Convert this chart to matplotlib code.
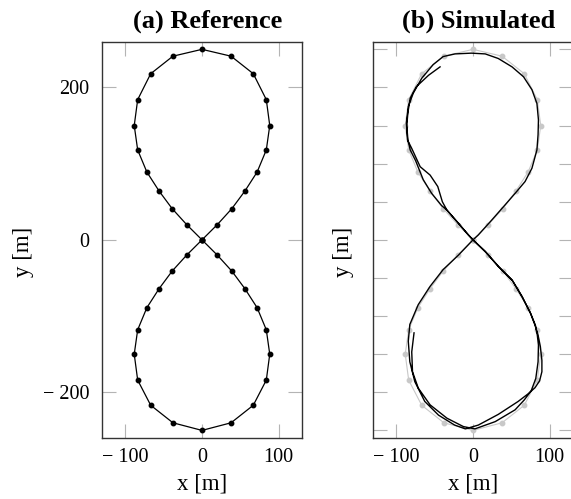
import matplotlib
matplotlib.use("Agg")
import matplotlib.pyplot as plt

plt.rcParams['font.family'] = ['Liberation Serif', 'DejaVu Serif']

# reference figure-eight waypoints [m]
ref_x = [0, 20, 39, 56, 72, 84, 88.5, 84, 67, 38, 0, -38, -67, -84, -88.5, -84, -72, -56, -39, -20,
         0, 20, 39, 56, 72, 84, 88.5, 84, 67, 38, 0, -38, -67, -84, -88.5, -84, -72, -56, -39, -20, 0]
ref_y = [0, 20, 41, 64, 89, 118, 150, 184, 218, 241, 250, 241, 218, 184, 150, 118, 89, 64, 41, 20,
         0, -20, -41, -64, -89, -118, -150, -184, -217, -240, -250, -240, -217, -184, -150, -118, -89, -64, -41, -20, 0]

# simulated trajectory (two laps) [m]
sim_x = [-43, -58, -74, -82, -85, -86.5, -85, -82, -75, -65, -54, -41, -34, -21, -6, 0,
         16, 33, 51, 64, 75, 81, 85, 88, 90, 90, 87, 81, 72, 59, 33, 7, -10, -24, -45, -63, -76, -82.5, -84.5, -82.5,
         -71.5, -56, -39, -19, 0,
         7, 24.5, 42, 55, 68, 77, 83.5, 85, 85.5, 83.5, 77, 66, 51, 33, 16, -2, -23.5, -39, -52, -67, -78, -84.5, -87, -85.5,
         -80, -69, -56, -46, -40, -34, -21, -6, 0,
         16.5, 34, 51.5, 64.5, 75.5, 81.5, 84, 85.5, 85, 82, 76, 67, 55, 29, 2.5, -12.5, -34, -56, -71.5, -79, -80, -77]
sim_y = [227, 216, 201, 186, 167, 150, 131, 118, 104, 79, 61, 45, 39, 24, 6.5, 0,
         -15, -35, -52.5, -74, -96, -112, -125, -140, -158, -173, -185, -194, -202, -212, -229, -243, -248, -243, -230, -212, -186, -160, -133, -111,
         -85, -61, -39, -20, 0,
         6.5, 26, 46, 61, 76.5, 94, 118, 138, 157.5, 179, 197, 214, 227, 238, 244, 245, 244, 240.5, 230, 212, 192.5, 175, 153, 131,
         120, 96, 85, 70, 50, 39, 24, 6.5, 0,
         -16, -35.5, -53.5, -75.5, -97, -112, -125, -138, -160, -182, -198, -210, -223, -238.5, -248, -245, -234, -216.5, -194.5, -173, -147, -122]

x_ticks = [-100, 0, 100]
x_ticklabels = ["\u2212 100", "0", "100"]
y_ticks_a = [-200, 0, 200]
y_ticklabels_a = ["\u2212 200", "0", "200"]
y_ticks_b = [-250, -200, -150, -100, -50, 0, 50, 100, 150, 200, 250]

fig = plt.figure(figsize=(5.71, 4.99), dpi=100)
ax1 = fig.add_axes([0.1781, 0.1222, 0.3513, 0.7942])
ax2 = fig.add_axes([0.6527, 0.1222, 0.3513, 0.7942])

ax1.plot(ref_x, ref_y, color='black', lw=0.9, marker='o', ms=3.2)
ax2.plot(ref_x, ref_y, color='#c8c8c8', lw=0.8, marker='o', ms=3.2)
ax2.plot(sim_x, sim_y, color='black', lw=1.0)

for ax in (ax1, ax2):
    ax.set_xlim(-131, 131)
    ax.set_ylim(-260, 260)
    ax.set_xticks(x_ticks)
    ax.set_xticklabels(x_ticklabels)
    ax.tick_params(direction='in', length=10.4, width=0.8, color='#b4b4b4',
                   top=True, right=True, labelsize=14.5)
    ax.tick_params(axis='x', pad=7.5)
    ax.tick_params(axis='y', pad=9)
    for s in ax.spines.values():
        s.set_color('#333333')
        s.set_linewidth(1.0)
    ax.set_xlabel('x [m]', fontsize=16.5)
    ax.xaxis.set_label_coords(0.5, -0.089)

ax1.set_yticks(y_ticks_a)
ax1.set_yticklabels(y_ticklabels_a)
ax2.set_yticks(y_ticks_b)
ax2.set_yticklabels([])

ax1.set_ylabel('y [m]', fontsize=16.5)
ax1.yaxis.set_label_coords(-0.335, 0.47)
ax2.set_ylabel('y [m]', fontsize=16.5)
ax2.yaxis.set_label_coords(-0.095, 0.47)

ax1.set_title('(a) Reference', fontsize=19, fontweight='bold', pad=10, x=0.53)
ax2.set_title('(b) Simulated', fontsize=19, fontweight='bold', pad=10, x=0.53)

fig.savefig('out.png', dpi=100)
